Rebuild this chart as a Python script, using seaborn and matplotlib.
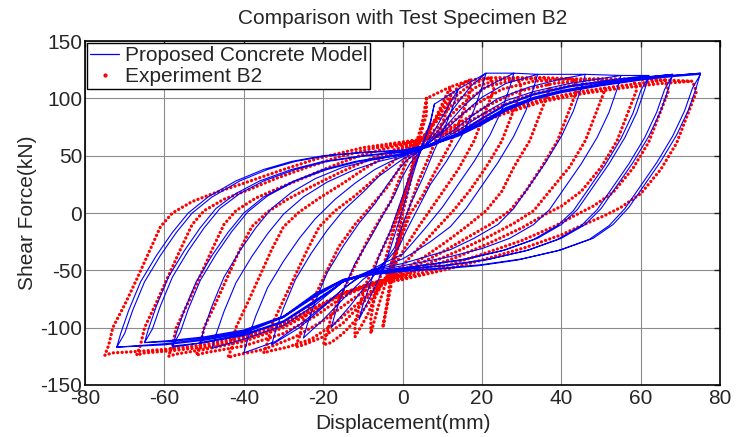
import pandas as pd
import matplotlib.pyplot as plt
import seaborn as sns
from matplotlib.lines import Line2D

# Proposed concrete model, one list of (displacement mm, shear force kN) per cycle
model_cycle_01 = [(8, 95), (7, 80), (5, 60), (3, 38), (1, 15), (-1, -8), (-3, -30),
                  (-5, -50), (-8, -72), (-11, -93),
                  (-10, -80), (-8, -60), (-6, -38), (-3, -15), (-1, 5), (1, 25), (3, 42),
                  (5, 58), (7, 78), (8, 95)]
model_cycle_02 = [(14, 108), (13, 96), (11, 78), (8, 55), (5, 30), (2, 8), (0, -10), (-2, -30),
                  (-5, -45), (-9, -62), (-13, -80), (-18, -100),
                  (-17, -88), (-15, -68), (-12, -44), (-8, -21), (-5, -2), (-2, 16), (0, 32), (2, 44),
                  (5, 56), (8, 72), (11, 90), (14, 108)]
model_cycle_03 = [(21, 122), (20, 110), (18, 90), (15, 68), (11, 45), (7, 25), (4, 5), (1, -15), (-1, -30),
                  (-5, -45), (-10, -58), (-15, -75), (-20, -93), (-25, -109),
                  (-24, -97), (-22, -77), (-19, -52), (-15, -29), (-11, -9), (-7, 8), (-4, 24), (-1, 38), (1, 46),
                  (5, 56), (9, 72), (13, 92), (17, 110), (21, 122)]
model_cycle_04 = [(28, 122), (27, 110), (25, 90), (22, 68), (18, 45), (14, 25), (10, 5), (6, -12), (2, -28), (0, -36),
                  (-5, -44), (-10, -54), (-15, -66), (-20, -82), (-26, -100), (-33, -115),
                  (-32, -103), (-30, -83), (-27, -58), (-23, -35), (-19, -15), (-15, 2), (-10, 18), (-6, 32),
                  (-2, 42), (0, 47),
                  (5, 56), (10, 72), (15, 92), (20, 108), (28, 122)]
model_cycle_05 = [(34, 121), (33, 109), (31, 89), (28, 67), (24, 44), (20, 24), (16, 4), (12, -12), (7, -25),
                  (3, -34), (0, -40),
                  (-6, -48), (-12, -58), (-18, -75), (-25, -95), (-32, -112), (-40, -122),
                  (-39, -110), (-37, -90), (-34, -65), (-30, -42), (-26, -22), (-22, -5), (-17, 12), (-12, 26),
                  (-7, 38), (-3, 45), (0, 49),
                  (5, 57), (10, 70), (15, 86), (20, 101), (26, 113), (34, 121)]
model_cycle_06 = [(46, 121), (45, 109), (43, 89), (40, 67), (36, 44), (32, 24), (28, 4), (24, -10), (18, -22),
                  (12, -32), (6, -38), (0, -44),
                  (-8, -50), (-15, -60), (-22, -80), (-30, -98), (-40, -110), (-48, -118),
                  (-47, -106), (-45, -86), (-42, -61), (-38, -38), (-34, -18), (-30, -1), (-25, 14), (-19, 27),
                  (-12, 38), (-6, 45), (0, 50),
                  (6, 58), (12, 70), (18, 86), (24, 100), (32, 110), (40, 117), (46, 121)]
model_cycle_07 = [(55, 120), (54, 108), (52, 88), (49, 66), (45, 43), (41, 23), (37, 3), (33, -10), (27, -22),
                  (20, -31), (12, -38), (0, -46),
                  (-8, -51), (-15, -60), (-22, -78), (-30, -95), (-40, -106), (-51, -113),
                  (-50, -101), (-48, -81), (-45, -56), (-41, -33), (-37, -13), (-33, 4), (-28, 18), (-22, 30),
                  (-15, 40), (-8, 46), (0, 51),
                  (7, 59), (14, 72), (20, 86), (26, 98), (33, 106), (42, 113), (55, 120)]
model_cycle_08 = [(62, 120), (61, 108), (59, 88), (56, 66), (52, 43), (48, 23), (44, 3), (40, -10), (34, -22),
                  (26, -32), (16, -40), (8, -44), (0, -48),
                  (-8, -52), (-15, -60), (-22, -76), (-30, -94), (-40, -106), (-50, -113), (-58, -117),
                  (-57, -105), (-55, -85), (-52, -60), (-48, -37), (-44, -17), (-40, 0), (-35, 14), (-28, 27),
                  (-20, 38), (-12, 45), (0, 52),
                  (7, 59), (14, 70), (20, 83), (26, 95), (33, 104), (42, 111), (52, 116), (62, 120)]
model_cycle_08b = [(62, 119), (60, 107), (58, 87), (55, 65), (51, 42), (47, 22), (43, 2), (39, -11), (33, -23),
                   (25, -33), (15, -41), (7, -45), (0, -48),
                   (-8, -52), (-15, -60), (-22, -77), (-30, -95), (-40, -107), (-50, -113), (-58, -116),
                   (-56, -104), (-54, -84), (-51, -59), (-47, -36), (-43, -16), (-39, 1), (-34, 15), (-27, 28),
                   (-19, 38), (-11, 45), (0, 51),
                   (7, 58), (14, 69), (20, 82), (26, 94), (33, 103), (42, 110), (52, 115), (62, 119)]
model_cycle_09 = [(68, 121), (67, 109), (65, 89), (62, 67), (58, 44), (54, 24), (50, 4), (46, -10), (40, -22),
                  (32, -32), (22, -40), (12, -45), (0, -49),
                  (-8, -52), (-15, -58), (-22, -72), (-30, -90), (-40, -102), (-50, -108), (-58, -111), (-65, -113),
                  (-64, -101), (-62, -81), (-59, -56), (-55, -33), (-51, -13), (-47, 4), (-42, 17), (-36, 28),
                  (-28, 38), (-20, 45), (-10, 50), (0, 54),
                  (7, 60), (14, 69), (20, 80), (26, 92), (33, 101), (40, 107), (50, 113), (60, 118), (68, 121)]
model_cycle_09b = [(68, 120), (66, 108), (64, 88), (61, 66), (57, 43), (53, 23), (49, 3), (45, -11), (39, -23),
                   (31, -33), (21, -41), (11, -46), (0, -49),
                   (-8, -52), (-15, -59), (-22, -73), (-30, -91), (-40, -103), (-50, -109), (-58, -112), (-65, -113),
                   (-63, -101), (-61, -81), (-58, -56), (-54, -33), (-50, -13), (-46, 4), (-41, 17), (-35, 28),
                   (-27, 38), (-19, 45), (-9, 50), (0, 53),
                   (7, 59), (14, 68), (20, 79), (26, 91), (33, 100), (40, 106), (50, 112), (60, 117), (68, 120)]
model_cycle_10 = [(75, 122), (74, 110), (72, 90), (69, 68), (65, 45), (61, 25), (57, 5), (53, -10), (48, -22),
                  (40, -32), (30, -40), (20, -45), (10, -48), (0, -50),
                  (-8, -53), (-15, -58), (-22, -70), (-30, -90), (-40, -104), (-50, -110), (-60, -114), (-72, -117),
                  (-71, -105), (-69, -85), (-66, -60), (-62, -37), (-58, -17), (-54, 0), (-49, 14), (-42, 28),
                  (-35, 38), (-28, 45), (-20, 50), (-10, 53), (0, 55),
                  (7, 60), (14, 68), (20, 78), (26, 90), (33, 100), (40, 106), (50, 112), (60, 117), (68, 120),
                  (75, 122)]
model_cycle_10b = [(75, 121), (73, 109), (71, 89), (68, 67), (64, 44), (60, 24), (56, 4), (52, -11), (47, -23),
                   (39, -33), (29, -41), (19, -46), (9, -49), (0, -51),
                   (-8, -54), (-15, -59), (-22, -71), (-30, -91), (-40, -105), (-50, -111), (-60, -115), (-72, -117),
                   (-70, -105), (-68, -85), (-65, -60), (-61, -37), (-57, -17), (-53, 0), (-48, 14), (-41, 28),
                   (-34, 38), (-27, 45), (-19, 50), (-9, 53), (0, 54),
                   (7, 59), (14, 67), (20, 77), (26, 89), (33, 99), (40, 105), (50, 111), (60, 116), (68, 119),
                   (75, 121)]

# Experiment B2, one list per cycle
exp_cycle_01 = [(6, 100), (6, 86), (4, 62), (2, 36), (0, 10), (-1, -15), (-2, -40), (-3, -65), (-5, -100),
                (-4, -80), (-3, -55), (-1, -28), (0, 0), (2, 28), (3, 55), (5, 80), (6, 100)]
exp_cycle_02 = [(12, 110), (12, 98), (10, 78), (7, 52), (4, 28), (2, 8), (0, -14), (-2, -36), (-4, -58),
                (-6, -80), (-8, -105),
                (-8, -92), (-7, -72), (-5, -48), (-3, -24), (-1, 0), (1, 22), (3, 44), (6, 66), (9, 88), (12, 110)]
exp_cycle_03 = [(17, 116), (17, 106), (15, 86), (12, 60), (8, 35), (5, 15), (2, 0), (0, -18), (-2, -36),
                (-4, -54), (-7, -74), (-9, -90), (-12, -108),
                (-12, -98), (-11, -82), (-9, -60), (-6, -38), (-3, -16), (-1, 2), (1, 22), (3, 42),
                (5, 60), (8, 80), (11, 98), (14, 110), (17, 116)]
exp_cycle_04 = [(22, 118), (23, 108), (21, 90), (18, 63), (14, 38), (10, 18), (7, 3), (4, -12), (1, -28), (-1, -40),
                (-4, -56), (-8, -76), (-12, -94), (-15, -105), (-18, -113), (-20, -115),
                (-19, -105), (-18, -90), (-15, -68), (-12, -46), (-9, -25), (-6, -7), (-3, 10), (-1, 28), (1, 45),
                (4, 60), (8, 80), (12, 98), (17, 112), (22, 118)]
exp_cycle_05 = [(29, 118), (30, 108), (28, 90), (25, 63), (21, 40), (17, 20), (13, 3), (9, -12), (5, -27),
                (2, -38), (0, -46),
                (-5, -60), (-10, -78), (-15, -96), (-20, -108), (-25, -115), (-27, -117),
                (-26, -108), (-25, -94), (-22, -72), (-19, -50), (-16, -29), (-12, -10), (-8, 6), (-4, 22),
                (-1, 38), (1, 50),
                (4, 62), (8, 78), (13, 96), (19, 111), (24, 116), (29, 118)]
exp_cycle_06 = [(36, 118), (37, 108), (35, 90), (32, 63), (28, 40), (25, 19), (21, 2), (16, -12), (11, -25),
                (6, -37), (2, -46), (0, -50),
                (-6, -62), (-11, -78), (-17, -96), (-23, -110), (-29, -117), (-33, -120), (-35, -122),
                (-34, -113), (-33, -98), (-30, -76), (-27, -54), (-24, -32), (-21, -12), (-17, 2), (-12, 15),
                (-7, 30), (-3, 43), (0, 53),
                (5, 64), (10, 78), (15, 95), (21, 110), (28, 116), (36, 118)]
exp_cycle_07 = [(43, 117), (44, 108), (42, 90), (39, 63), (35, 40), (31, 19), (27, 2), (22, -10), (16, -22),
                (10, -34), (4, -45), (0, -52),
                (-7, -62), (-13, -76), (-20, -94), (-27, -108), (-35, -119), (-42, -124), (-44, -126),
                (-43, -117), (-42, -100), (-39, -78), (-36, -55), (-33, -32), (-30, -12), (-26, 1), (-21, 13),
                (-15, 26), (-9, 40), (-4, 50), (0, 56),
                (6, 65), (12, 78), (18, 94), (25, 108), (33, 115), (43, 117)]
exp_cycle_08 = [(50, 117), (51, 108), (49, 90), (46, 63), (42, 40), (37, 19), (33, 2), (28, -9), (22, -20),
                (14, -33), (6, -45), (0, -54),
                (-8, -62), (-15, -73), (-22, -90), (-30, -105), (-40, -116), (-50, -122), (-52, -124),
                (-51, -116), (-50, -100), (-47, -78), (-44, -55), (-41, -32), (-38, -12), (-34, 1), (-29, 12),
                (-23, 23), (-16, 35), (-9, 46), (0, 58),
                (7, 66), (14, 78), (21, 93), (29, 106), (38, 113), (50, 117)]
exp_cycle_09 = [(58, 117), (59, 108), (57, 90), (54, 63), (50, 40), (45, 19), (40, 6), (36, -1), (30, -13),
                (22, -26), (14, -38), (6, -48), (0, -55),
                (-8, -61), (-15, -70), (-22, -85), (-30, -100), (-40, -112), (-50, -119), (-57, -123), (-59, -125),
                (-58, -116), (-57, -100), (-54, -78), (-51, -55), (-48, -32), (-45, -10), (-42, 2), (-37, 13),
                (-31, 22), (-24, 32), (-17, 42), (-10, 51), (0, 60),
                (8, 67), (15, 77), (23, 91), (32, 103), (42, 111), (50, 114), (58, 117)]
exp_cycle_10 = [(66, 116), (67, 107), (65, 89), (62, 62), (58, 39), (53, 18), (48, 6), (44, -1), (38, -12),
                (30, -24), (20, -36), (10, -47), (0, -57),
                (-8, -62), (-15, -70), (-22, -83), (-30, -98), (-40, -110), (-50, -117), (-58, -120), (-65, -122),
                (-67, -124),
                (-66, -115), (-65, -100), (-62, -78), (-59, -55), (-56, -32), (-53, -10), (-50, 2), (-45, 12),
                (-39, 20), (-32, 30), (-24, 40), (-16, 49), (-8, 56), (0, 61),
                (8, 66), (16, 75), (25, 88), (35, 99), (45, 106), (55, 111), (66, 116)]
exp_cycle_11 = [(73, 115), (74, 106), (72, 88), (69, 61), (65, 38), (60, 17), (55, 5), (51, -2), (45, -11),
                (40, -19), (31, -30), (20, -41), (10, -50), (0, -58),
                (-8, -63), (-15, -70), (-22, -82), (-30, -96), (-40, -108), (-50, -115), (-60, -119), (-68, -121),
                (-73, -122), (-75, -124),
                (-74, -115), (-73, -100), (-70, -80), (-67, -58), (-64, -35), (-61, -12), (-58, 0), (-53, 10),
                (-47, 18), (-40, 26), (-30, 38), (-21, 48), (-10, 57), (0, 62),
                (8, 66), (16, 74), (25, 86), (35, 97), (45, 104), (55, 109), (65, 113), (73, 115)]

model_cycles = [model_cycle_01, model_cycle_02, model_cycle_03, model_cycle_04, model_cycle_05,
                model_cycle_06, model_cycle_07, model_cycle_08, model_cycle_08b, model_cycle_09,
                model_cycle_09b, model_cycle_10, model_cycle_10b]
exp_cycles = [exp_cycle_01, exp_cycle_02, exp_cycle_03, exp_cycle_04, exp_cycle_05, exp_cycle_06,
              exp_cycle_07, exp_cycle_08, exp_cycle_09, exp_cycle_10, exp_cycle_11]

model_df = pd.DataFrame([p for c in model_cycles for p in c], columns=['Displacement', 'Force'])
exp_df = pd.DataFrame([p for c in exp_cycles for p in c], columns=['Displacement', 'Force'])

sns.set_style('white')
plt.rcParams['font.family'] = ['Liberation Sans', 'DejaVu Sans']
plt.rcParams['axes.unicode_minus'] = False

fig = plt.figure(figsize=(7.37, 4.37), dpi=100)
ax = fig.add_axes([0.1153, 0.119, 0.862, 0.787])

# experiment drawn as a chain of dots along the measured path
sns.lineplot(data=exp_df, x='Displacement', y='Force', sort=False, estimator=None,
             color='#ff0000', lw=2.4, linestyle=(0, (0.01, 1.3)), dash_capstyle='round', ax=ax)
sns.lineplot(data=model_df, x='Displacement', y='Force', sort=False, estimator=None,
             color='#0000ff', lw=0.8, ax=ax)

ax.set_xlim(-80, 80)
ax.set_ylim(-150, 150)
ax.set_xticks(range(-80, 81, 20))
ax.set_yticks(range(-150, 151, 50))
ax.grid(True, color='0.55', lw=0.8)
ax.set_axisbelow(True)
for s in ax.spines.values():
    s.set_color('black')
    s.set_linewidth(1.2)
ax.tick_params(direction='in', length=4, width=1, labelsize=15, top=True, right=True)
ax.tick_params(axis='x', pad=3)
ax.tick_params(axis='y', pad=2)

ax.set_title('Comparison with Test Specimen B2', fontsize=15, pad=12)
ax.set_xlabel('Displacement(mm)', fontsize=15, labelpad=4)
ax.set_ylabel('Shear Force(kN)', fontsize=15, labelpad=2)

handles = [Line2D([], [], color='#0000ff', lw=0.9),
           Line2D([], [], color='#ff0000', ls='none', marker='.', markersize=4)]
leg = ax.legend(handles, ['Proposed Concrete Model', 'Experiment B2'], loc='upper left',
                fontsize=15, frameon=True, fancybox=False, framealpha=1, edgecolor='black',
                borderaxespad=0.1, handlelength=1.4, handletextpad=0.25, labelspacing=0.1, borderpad=0.15)
leg.get_frame().set_linewidth(1.0)

plt.savefig('out.png', dpi=100)
